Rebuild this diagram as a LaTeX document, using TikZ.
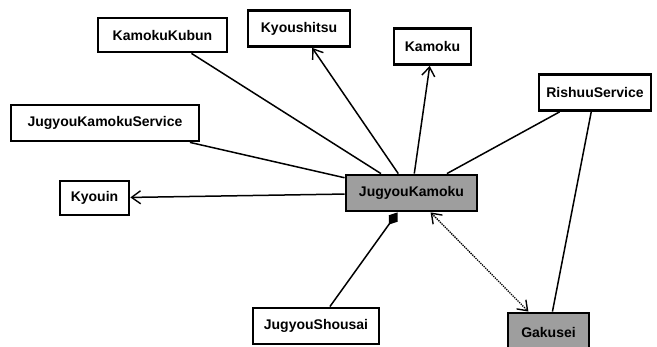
\documentclass[tikz,border=0pt]{standalone}
\usepackage{fontspec}
\setmainfont{Liberation Sans}
\usetikzlibrary{arrows.meta}
\begin{document}
\begin{tikzpicture}[x=1pt,y=-1pt,
  cls/.style={draw=black, line width=2.8pt, fill=white, inner sep=0pt,
    font=\fontsize{14}{16}\selectfont\bfseries},
  shaded/.style={cls, fill=black!38},
  link/.style={draw=black, line width=1.5pt},
  nav/.style={link, -{Straight Barb[length=9pt,width=13pt,line width=1.4pt]}},
  both/.style={link, line width=1.3pt, densely dotted,
    {Straight Barb[length=9pt,width=13pt,line width=1.4pt,sep=0pt]}-{Straight Barb[length=9pt,width=13pt,line width=1.4pt]}},
  comp/.style={link, {Diamond[length=15pt,width=11pt]}-}
]
\path[use as bounding box] (0,0) rectangle (657,347);
\clip (0,0) rectangle (657,347);

% classes
\node[cls, minimum width=129pt, minimum height=34pt] (kk) at (162.5,35) {KamokuKubun};
\node[cls, minimum width=102pt, minimum height=36pt] (ky) at (299,28.5) {Kyoushitsu};
\node[cls, minimum width=77pt,  minimum height=36pt] (ka) at (432.5,46.5) {Kamoku};
\node[cls, minimum width=112pt, minimum height=36pt] (rs) at (595,92.5) {RishuuService};
\node[cls, minimum width=188pt, minimum height=36pt] (jks) at (105,123) {JugyouKamokuService};
\node[cls, minimum width=69pt,  minimum height=34pt] (kn) at (94.5,198) {Kyouin};
\node[shaded, minimum width=131pt, minimum height=36pt] (jk) at (411.5,193) {JugyouKamoku};
\node[cls, minimum width=126pt, minimum height=36pt] (js) at (316,326) {JugyouShousai};
\node[shaded, minimum width=81pt, minimum height=38pt] (gk) at (548.5,332) {Gakusei};

% associations
\draw[link] (jk) -- (kk);
\draw[link] (jk) -- (jks);
\draw[link] (jk) -- (rs);
\draw[nav] (jk) -- (ky);
\draw[nav] (jk) -- (ka);
\draw[nav] (jk) -- (kn);
\draw[comp] (jk) -- (js);
\draw[both] (jk) -- (gk);
\draw[link] (rs) -- (gk);
\end{tikzpicture}
\end{document}
